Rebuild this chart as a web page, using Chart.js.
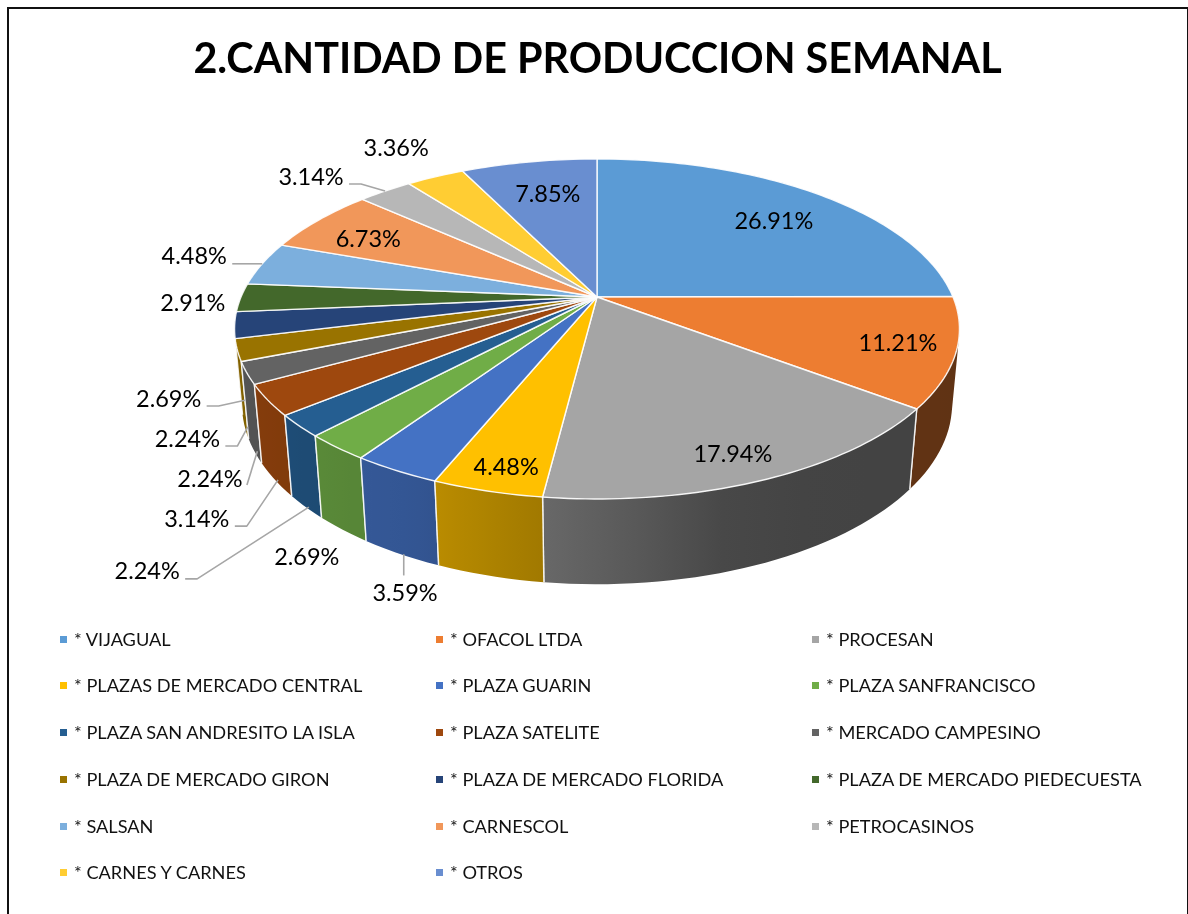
<!DOCTYPE html>
<html lang="en">
<head>
    <meta charset="UTF-8">
    <title>Cantidad de produccion semanal</title>
    <script src="https://cdn.jsdelivr.net/npm/chart.js"></script>
    <style>
        body { margin: 0; background: #fff; width: 1188px; height: 914px; overflow: hidden; position: relative; }
        canvas { position: absolute; left: 0; top: 0; }
        #frame { position: absolute; left: 7px; top: 7px; width: 1178px; height: 920px; border-left: 2px solid #111; border-top: 2px solid #111; border-right: 3px solid #111; }
        .item { position: absolute; font: 18.2px Lato, sans-serif; color: #111; white-space: nowrap; line-height: 20px; }
        .item i { position: absolute; left: -14px; top: 7px; width: 7px; height: 7px; }
    </style>
</head>
<body>
    <canvas id="pieChart" width="1188" height="914"></canvas>
    <div id="frame"></div>
    <div id="legend"></div>

    <script>
        const titleText = '2.CANTIDAD DE PRODUCCION SEMANAL';
        const categories = [
            '* VIJAGUAL', '* OFACOL LTDA', '* PROCESAN',
            '* PLAZAS DE MERCADO CENTRAL', '* PLAZA GUARIN', '* PLAZA SANFRANCISCO',
            '* PLAZA SAN ANDRESITO LA ISLA', '* PLAZA SATELITE', '* MERCADO CAMPESINO',
            '* PLAZA DE MERCADO GIRON', '* PLAZA DE MERCADO FLORIDA', '* PLAZA DE MERCADO PIEDECUESTA',
            '* SALSAN', '* CARNESCOL', '* PETROCASINOS',
            '* CARNES Y CARNES', '* OTROS'
        ];
        const shares = [26.91, 11.21, 17.94, 4.48, 3.59, 2.69, 2.24, 3.14, 2.24, 2.24, 2.69, 2.91, 4.48, 6.73, 3.14, 3.36, 7.85];
        const colors = ['#5b9bd5', '#ed7d31', '#a5a5a5', '#ffc000', '#4472c4', '#70ad47', '#255e91', '#9e480e', '#636363',
            '#997300', '#264478', '#43682b', '#7cafdd', '#f1975a', '#b7b7b7', '#ffcd33', '#698ed0'];

        // label position relative to the slice's point on the rim
        const labelOffsets = [[-45, 27], [-58, -9], [-31, -25], [19, -24], [9, 123], [-30, 110], [-152, 146], [-71, 119], [-37, 106],
            [-50, 89], [-66, 74], [-48, 6], [-68, -7], [50, 19], [-74, -14], [-39, -28], [19, 32]];
        // which slices get a leader line and where it ends
        const leaders = { 4: 'below', 6: 'wall', 7: 'wall', 8: 'straight', 9: 'wall', 10: 'wall', 12: 'rim', 14: 'rim' };

        // the pie lies tilted, so the disc goes through a perspective projection
        const cx = 597, cy = 297, rx = 356, ry = 164, persp = 0.188;
        const wallDrop = 75, wallShrink = 0.02;

        function topPoint(theta) {
            const u = Math.sin(theta), v = -Math.cos(theta), d = 1 - persp * v;
            return { x: cx + rx * u / d, y: cy + ry * v / d };
        }
        function bottomPoint(theta) {
            const u = Math.sin(theta), v = -Math.cos(theta), d = 1 - persp * v + wallShrink;
            return { x: cx + rx * u / d, y: cy + (ry * v + wallDrop) / d };
        }

        // wall brightness depends on which way the wall faces
        const shadeStops = [[0, .4], [160, .41], [180, .58], [190, .65], [205, .75], [225, .8], [240, .84], [255, .86], [360, .86]];
        function shadeAt(deg) {
            for (let i = 1; i < shadeStops.length; i++) {
                if (deg <= shadeStops[i][0]) {
                    const a = shadeStops[i - 1], b = shadeStops[i];
                    return a[1] + (b[1] - a[1]) * (deg - a[0]) / (b[0] - a[0]);
                }
            }
            return 0.86;
        }
        function darken(hex, f) {
            const n = parseInt(hex.slice(1), 16);
            return `rgb(${Math.round((n >> 16) * f)},${Math.round(((n >> 8) & 255) * f)},${Math.round((n & 255) * f)})`;
        }

        function arcPath(ctx, pointFn, from, to) {
            const steps = Math.max(2, Math.ceil(Math.abs(to - from) / 0.02));
            for (let s = 0; s <= steps; s++) {
                const p = pointFn(from + (to - from) * s / steps);
                ctx.lineTo(p.x, p.y);
            }
        }

        function drawWall(ctx, a0, a1, color) {
            const x0 = topPoint(a0).x, x1 = topPoint(a1).x;
            const grad = ctx.createLinearGradient(x0, 0, x1 === x0 ? x0 + 1 : x1, 0);
            for (let t = 0; t <= 1.001; t += 0.2) {
                const th = a0 + (a1 - a0) * t;
                const off = Math.min(1, Math.max(0, (topPoint(th).x - x0) / ((x1 - x0) || 1)));
                grad.addColorStop(off, darken(color, shadeAt(th * 180 / Math.PI)));
            }
            // all small quads in one path with the same winding, so they fill as a union
            const steps = Math.max(2, Math.ceil((a1 - a0) / 0.03));
            ctx.beginPath();
            for (let s = 0; s < steps; s++) {
                const b0 = a0 + (a1 - a0) * s / steps, b1 = a0 + (a1 - a0) * (s + 1) / steps;
                let quad = [topPoint(b0), topPoint(b1), bottomPoint(b1), bottomPoint(b0)];
                let area = 0;
                quad.forEach((p, k) => {
                    const q = quad[(k + 1) % 4];
                    area += p.x * q.y - q.x * p.y;
                });
                if (area < 0) quad = quad.reverse();
                quad.forEach((p, k) => k ? ctx.lineTo(p.x, p.y) : ctx.moveTo(p.x, p.y));
                ctx.closePath();
            }
            ctx.fillStyle = grad;
            ctx.fill();
            ctx.strokeStyle = 'rgba(255,255,255,.85)';
            ctx.lineWidth = 1.4;
            [a0, a1].forEach(a => {
                const p = topPoint(a), q = bottomPoint(a);
                ctx.beginPath();
                ctx.moveTo(p.x, p.y);
                ctx.lineTo(q.x, q.y);
                ctx.stroke();
            });
        }

        const pie3d = {
            id: 'pie3d',
            beforeDatasetDraw(chart) {
                const ctx = chart.ctx;
                const arcs = chart.getDatasetMeta(0).data;
                const angles = arcs.map(a => [a.startAngle + Math.PI / 2, a.endAngle + Math.PI / 2]);
                ctx.save();
                ctx.lineJoin = 'round';

                // walls first, back to front; the top covers whatever is hidden
                const order = angles.map((a, i) => i).sort((i, j) =>
                    Math.abs((angles[j][0] + angles[j][1]) / 2 - Math.PI) - Math.abs((angles[i][0] + angles[i][1]) / 2 - Math.PI));
                order.forEach(i => {
                    const [a0, a1] = angles[i];
                    if (a1 <= Math.PI / 2 || a0 >= Math.PI * 1.5) return;
                    drawWall(ctx, a0, a1, colors[i]);
                });

                // top of the pie
                angles.forEach(([a0, a1], i) => {
                    ctx.beginPath();
                    ctx.moveTo(cx, cy);
                    arcPath(ctx, topPoint, a0, a1);
                    ctx.closePath();
                    ctx.fillStyle = colors[i];
                    ctx.fill();
                    ctx.strokeStyle = 'rgba(255,255,255,.9)';
                    ctx.lineWidth = 1.4;
                    ctx.stroke();
                });

                // leader lines and value labels
                ctx.font = '23.5px Lato, sans-serif';
                ctx.textAlign = 'center';
                ctx.textBaseline = 'middle';
                angles.forEach(([a0, a1], i) => {
                    const mid = (a0 + a1) / 2;
                    const rim = topPoint(mid);
                    const lx = rim.x + labelOffsets[i][0], ly = rim.y + labelOffsets[i][1];
                    const kind = leaders[i];
                    if (kind) {
                        const end = kind === 'rim' ? rim : bottomPoint(mid);
                        const endX = kind === 'rim' ? end.x : end.x + 3;
                        ctx.beginPath();
                        if (kind === 'below') {
                            ctx.moveTo(endX, ly - 18);
                        } else if (kind === 'straight') {
                            ctx.moveTo(lx + 37, ly + 6);
                        } else {
                            ctx.moveTo(lx + 38, ly + 7);
                            ctx.lineTo(lx + 50, ly + 7);
                        }
                        ctx.lineTo(endX, end.y);
                        ctx.strokeStyle = '#a6a6a6';
                        ctx.lineWidth = 1.6;
                        ctx.stroke();
                    }
                    ctx.fillStyle = '#000';
                    ctx.fillText(shares[i].toFixed(2) + '%', lx, ly);
                });
                ctx.restore();
                return false;
            }
        };

        new Chart(document.getElementById('pieChart'), {
            type: 'pie',
            data: {
                labels: categories,
                datasets: [{ data: shares, backgroundColor: colors }]
            },
            options: {
                responsive: false,
                animation: false,
                layout: { padding: { left: 7 } },
                plugins: {
                    legend: { display: false },
                    tooltip: { enabled: false },
                    title: {
                        display: true,
                        text: titleText,
                        color: '#000',
                        font: { family: 'Lato, sans-serif', size: 41.3, weight: 'bold' },
                        padding: { top: 35, bottom: 10 }
                    }
                }
            },
            plugins: [pie3d]
        });

        // legend in three columns
        const legendCols = [74, 450, 826];
        const legendRows = [629, 675, 722, 769, 816, 862];
        const legendBox = document.getElementById('legend');
        categories.forEach((name, i) => {
            const el = document.createElement('div');
            el.className = 'item';
            el.style.left = legendCols[i % 3] + 'px';
            el.style.top = legendRows[Math.floor(i / 3)] + 'px';
            el.innerHTML = `<i style="background:${colors[i]}"></i>${name}`;
            legendBox.appendChild(el);
        });
    </script>
</body>
</html>
